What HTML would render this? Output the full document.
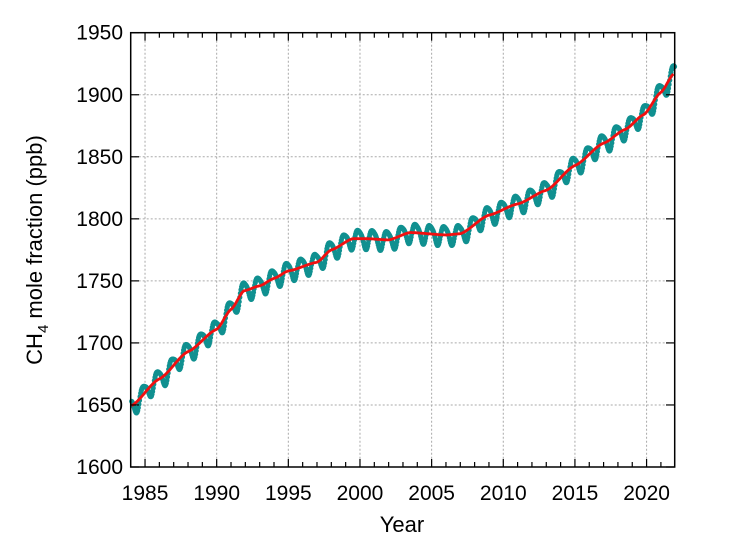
<!DOCTYPE html>
<html><head><meta charset="utf-8"><style>
html,body{margin:0;padding:0;background:#fff;}
text{font-family:"Liberation Sans",sans-serif;fill:#000;}
</style></head><body>
<svg id="s" width="746" height="549" viewBox="0 0 746 549" xmlns="http://www.w3.org/2000/svg">
<g id="grid" stroke="#aaa" stroke-width="1" stroke-dasharray="2,2" fill="none"></g>
<g id="data"></g>
<rect x="130.7" y="32.7" width="544" height="434.3" fill="none" stroke="#000" stroke-width="1.5"/>
<g id="ticks" stroke="#000" stroke-width="1.2"></g>
<g id="labels" font-size="21"></g>
<text x="402" y="532" font-size="22" text-anchor="middle">Year</text>
<text transform="translate(42,250) rotate(-90)" font-size="22" text-anchor="middle">CH<tspan font-size="15" dy="6">4</tspan><tspan dy="-6"> mole fraction (ppb)</tspan></text>
</svg>
<script>
var X=function(t){return 130.7+(t-1984)*14.33;};
var Y=function(v){return 467-(v-1600)*62.04/50;};
var ns="http://www.w3.org/2000/svg";
function el(p,tag,a){var e=document.createElementNS(ns,tag);for(var k in a)e.setAttribute(k,a[k]);document.getElementById(p).appendChild(e);return e;}
for(var y=1985;y<=2020;y+=5){el("grid","line",{x1:X(y),x2:X(y),y1:32.7,y2:467});var t=el("labels","text",{x:X(y),y:500,"text-anchor":"middle"});t.textContent=y;}
for(var v=1650;v<=1900;v+=50){el("grid","line",{x1:130.7,x2:674.7,y1:Y(v),y2:Y(v)});}
for(var v=1600;v<=1950;v+=50){var t=el("labels","text",{x:123,y:Y(v)+7,"text-anchor":"end"});t.textContent=v;
 el("ticks","line",{x1:130.7,x2:139,y1:Y(v),y2:Y(v)});el("ticks","line",{x1:674.7,x2:666,y1:Y(v),y2:Y(v)});}
for(var y=1985;y<=2021;y++){var L=(y%5==0)?8:5;el("ticks","line",{x1:X(y),x2:X(y),y1:467,y2:467-L});el("ticks","line",{x1:X(y),x2:X(y),y1:32.7,y2:32.7+L});}
var K=[[1984,1649],[1986,1671],[1988,1693],[1990,1711],[1991,1727],[1991.9,1742],[1993,1746],[1994,1752],[1995,1758],[1997,1765],[1998,1775],[1999.5,1784],[2000.5,1784],[2002,1783],[2003.5,1789],[2006,1787],[2007,1788],[2009,1803],[2011,1812],[2013,1823],[2015,1843],[2017,1861],[2018.5,1872],[2019.8,1884],[2021,1902],[2021.9,1917]];
function tr(t){for(var i=0;i<K.length-1;i++){if(t<=K[i+1][0]){var a=K[i],b=K[i+1],f=(t-a[0])/(b[0]-a[0]);f=f*f*(3-2*f)*0.5+f*0.5;return a[1]+(b[1]-a[1])*f;}}return K[K.length-1][1];}
var d="";for(var t=1984.07;t<=2021.9;t+=0.05){d+=(d?"L":"M")+X(t).toFixed(1)+","+Y(tr(t)).toFixed(1);}
for(var t=1984.07;t<=2021.95;t+=1/24){var v=tr(t)+7.5*Math.cos(2*Math.PI*(t-0.9))+1.5*Math.cos(4*Math.PI*(t-0.2));el("data","circle",{cx:X(t).toFixed(1),cy:Y(v).toFixed(1),r:2.6,fill:"#109090"});}
el("data","path",{d:d,fill:"none",stroke:"#f01010","stroke-width":2.8});
</script>
</body></html>
